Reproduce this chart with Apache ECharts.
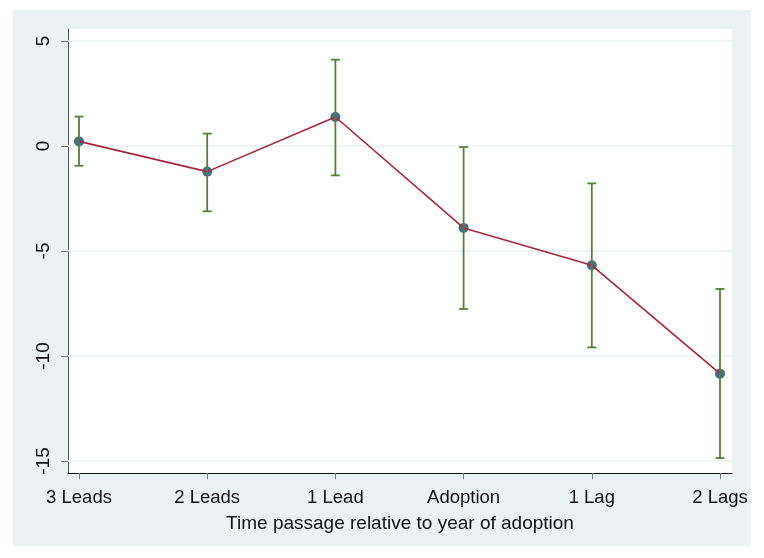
<!DOCTYPE html>
<html>
<head>
<meta charset="utf-8">
<script src="https://cdn.jsdelivr.net/npm/echarts@6/dist/echarts.min.js"></script>
<style>
  html, body { margin: 0; padding: 0; background: #ffffff; }
  #chart { position: absolute; left: 13px; top: 10px; width: 738px; height: 536px; background: #eaf2f3; }
</style>
</head>
<body>
<div id="chart"></div>
<script>
const categories = ['3 Leads', '2 Leads', '1 Lead', 'Adoption', '1 Lag', '2 Lags'];
const estimates  = [0.22, -1.22, 1.38, -3.90, -5.68, -10.84];
const ciLow      = [-0.94, -3.11, -1.40, -7.76, -9.59, -14.86];
const ciHigh     = [1.40, 0.59, 4.11, -0.05, -1.78, -6.81];
const yTicks     = [-15, -10, -5, 0, 5];
const xTitle     = 'Time passage relative to year of adoption';

const xIdx = categories.map((c, i) => i);
const FONT = 'Liberation Sans, Arial, Helvetica, sans-serif';

const chart = echarts.init(document.getElementById('chart'), null, { renderer: 'canvas' });

const pointData = estimates.map((v, i) => [i, v]);
const barData = categories.map((c, i) => [i, ciLow[i], ciHigh[i]]);

chart.setOption({
  animation: false,
  backgroundColor: 'transparent',
  grid: {
    left: 55, right: 19, top: 19, bottom: 73,
    show: true, backgroundColor: '#ffffff', borderWidth: 0
  },
  xAxis: {
    type: 'value',
    min: -0.0858, max: 5.0936,
    splitLine: { show: false },
    axisLine: { show: true, onZero: false, lineStyle: { color: '#111111', width: 1 } },
    axisTick: { show: true, customValues: xIdx, length: 6, lineStyle: { color: '#777777', width: 1 } },
    axisLabel: {
      customValues: xIdx,
      formatter: v => categories[Math.round(v)],
      color: '#111111', fontFamily: FONT, fontSize: 18.5, margin: 15
    },
    name: xTitle,
    nameLocation: 'middle',
    nameGap: 41,
    nameTextStyle: { color: '#111111', fontFamily: FONT, fontSize: 19 }
  },
  yAxis: {
    type: 'value',
    min: -15.5714, max: 5.5714,
    splitLine: { show: false },
    axisLine: { show: true, onZero: false, lineStyle: { color: '#555555', width: 1 } },
    axisTick: { show: true, customValues: yTicks, length: 7, lineStyle: { color: '#777777', width: 1 } },
    axisLabel: {
      customValues: yTicks,
      rotate: 90,
      color: '#111111', fontFamily: FONT, fontSize: 19, margin: 15
    }
  },
  series: [
    {
      type: 'scatter',
      data: pointData,
      symbol: 'circle',
      symbolSize: 10,
      itemStyle: { color: '#1a476f' },
      z: 3,
      silent: true,
      markLine: {
        silent: true,
        symbol: 'none',
        label: { show: false },
        lineStyle: { color: '#eaf2f3', width: 1.5, type: 'solid' },
        data: yTicks.map(t => ({ yAxis: t })),
        z: 1
      }
    },
    {
      type: 'line',
      data: pointData,
      showSymbol: false,
      symbol: 'none',
      lineStyle: { color: '#a6273a', width: 1.6 },
      z: 4,
      silent: true
    },
    {
      type: 'custom',
      data: barData,
      z: 5,
      silent: true,
      renderItem: function (params, api) {
        const x = api.value(0);
        const lo = api.coord([x, api.value(1)]);
        const hi = api.coord([x, api.value(2)]);
        const cap = 4.5;
        const style = { stroke: '#548235', lineWidth: 1.8 };
        return {
          type: 'group',
          children: [
            { type: 'line', shape: { x1: lo[0], y1: lo[1], x2: hi[0], y2: hi[1] }, style: style },
            { type: 'line', shape: { x1: lo[0] - cap, y1: lo[1], x2: lo[0] + cap, y2: lo[1] }, style: style },
            { type: 'line', shape: { x1: hi[0] - cap, y1: hi[1], x2: hi[0] + cap, y2: hi[1] }, style: style }
          ]
        };
      }
    }
  ]
});
</script>
</body>
</html>
